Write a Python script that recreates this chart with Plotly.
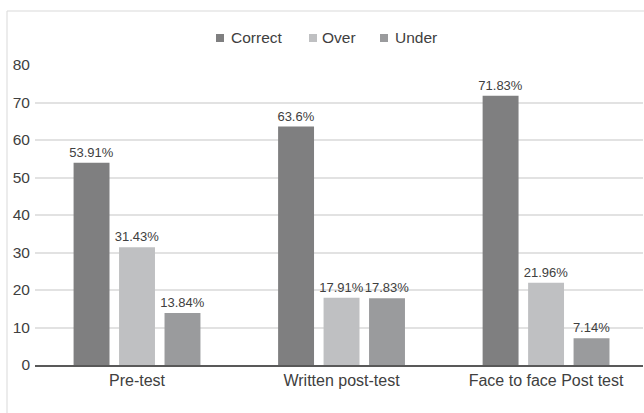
import plotly.graph_objects as go

categories = ["Pre-test", "Written post-test", "Face to face Post test"]
correct = [53.91, 63.6, 71.83]
over = [31.43, 17.91, 21.96]
under = [13.84, 17.83, 7.14]

series = [
    ("Correct", correct, "#7f7f80"),
    ("Over", over, "#bfc0c2"),
    ("Under", under, "#9a9b9d"),
]

W, H = 644, 413
ML, MR, MT, MB = 35, 1, 65, 48
pw, ph = W - ML - MR, H - MT - MB
TEXT = "#404040"
FONT = "Liberation Sans, Arial, sans-serif"


def px_x(px):
    return (px - ML) / pw


def px_y(py):
    return (H - MB - py) / ph


fig = go.Figure()
for name, vals, color in series:
    fig.add_trace(go.Bar(
        name=name,
        x=categories,
        y=vals,
        marker=dict(color=color, line=dict(width=0)),
        text=[f"{v:g}%" for v in vals],
        textposition="outside",
        constraintext="none",
        textfont=dict(size=13, color=TEXT),
        cliponaxis=False,
        showlegend=False,
    ))

# hand-placed legend: small square swatch followed by the series name
legend_items = [("Correct", 216, 229), ("Over", 309, 320), ("Under", 380, 393)]
shapes = []
annotations = []
for (name, sx, tx), (_, _, color) in zip(legend_items, series):
    shapes.append(dict(
        type="rect", xref="paper", yref="paper",
        x0=px_x(sx), x1=px_x(sx + 8), y0=px_y(42), y1=px_y(34),
        fillcolor=color, line=dict(width=0),
    ))
    annotations.append(dict(
        text=name, xref="paper", yref="paper",
        x=px_x(tx), y=px_y(38), xanchor="left", yanchor="middle",
        showarrow=False, font=dict(size=15.5, color=TEXT, family=FONT),
    ))

# outer chart frame
shapes.append(dict(
    type="rect", xref="paper", yref="paper",
    x0=px_x(7), x1=px_x(660), y0=px_y(430), y1=px_y(11),
    line=dict(color="#d9d9d9", width=1), fillcolor="rgba(0,0,0,0)",
    layer="below",
))

fig.update_layout(
    width=W, height=H,
    margin=dict(l=ML, r=MR, t=MT, b=MB),
    paper_bgcolor="white",
    plot_bgcolor="white",
    font=dict(family=FONT, color=TEXT, size=15.5),
    barmode="group",
    bargap=0.333,
    bargroupgap=0.21,
    showlegend=False,
    xaxis=dict(
        range=[-0.4988, 2.474],
        showgrid=False,
        showline=True, linecolor="#595959", linewidth=1.5,
        ticks="", tickfont=dict(size=16, color=TEXT),
    ),
    yaxis=dict(
        range=[0, 80], dtick=10,
        showgrid=True, gridcolor="#e2e2e2", gridwidth=1.5,
        zeroline=False, showline=False,
        ticks="", ticklabelstandoff=4,
        tickfont=dict(size=15.5, color=TEXT),
    ),
    shapes=shapes,
    annotations=annotations,
)

fig.write_html("out.html")
